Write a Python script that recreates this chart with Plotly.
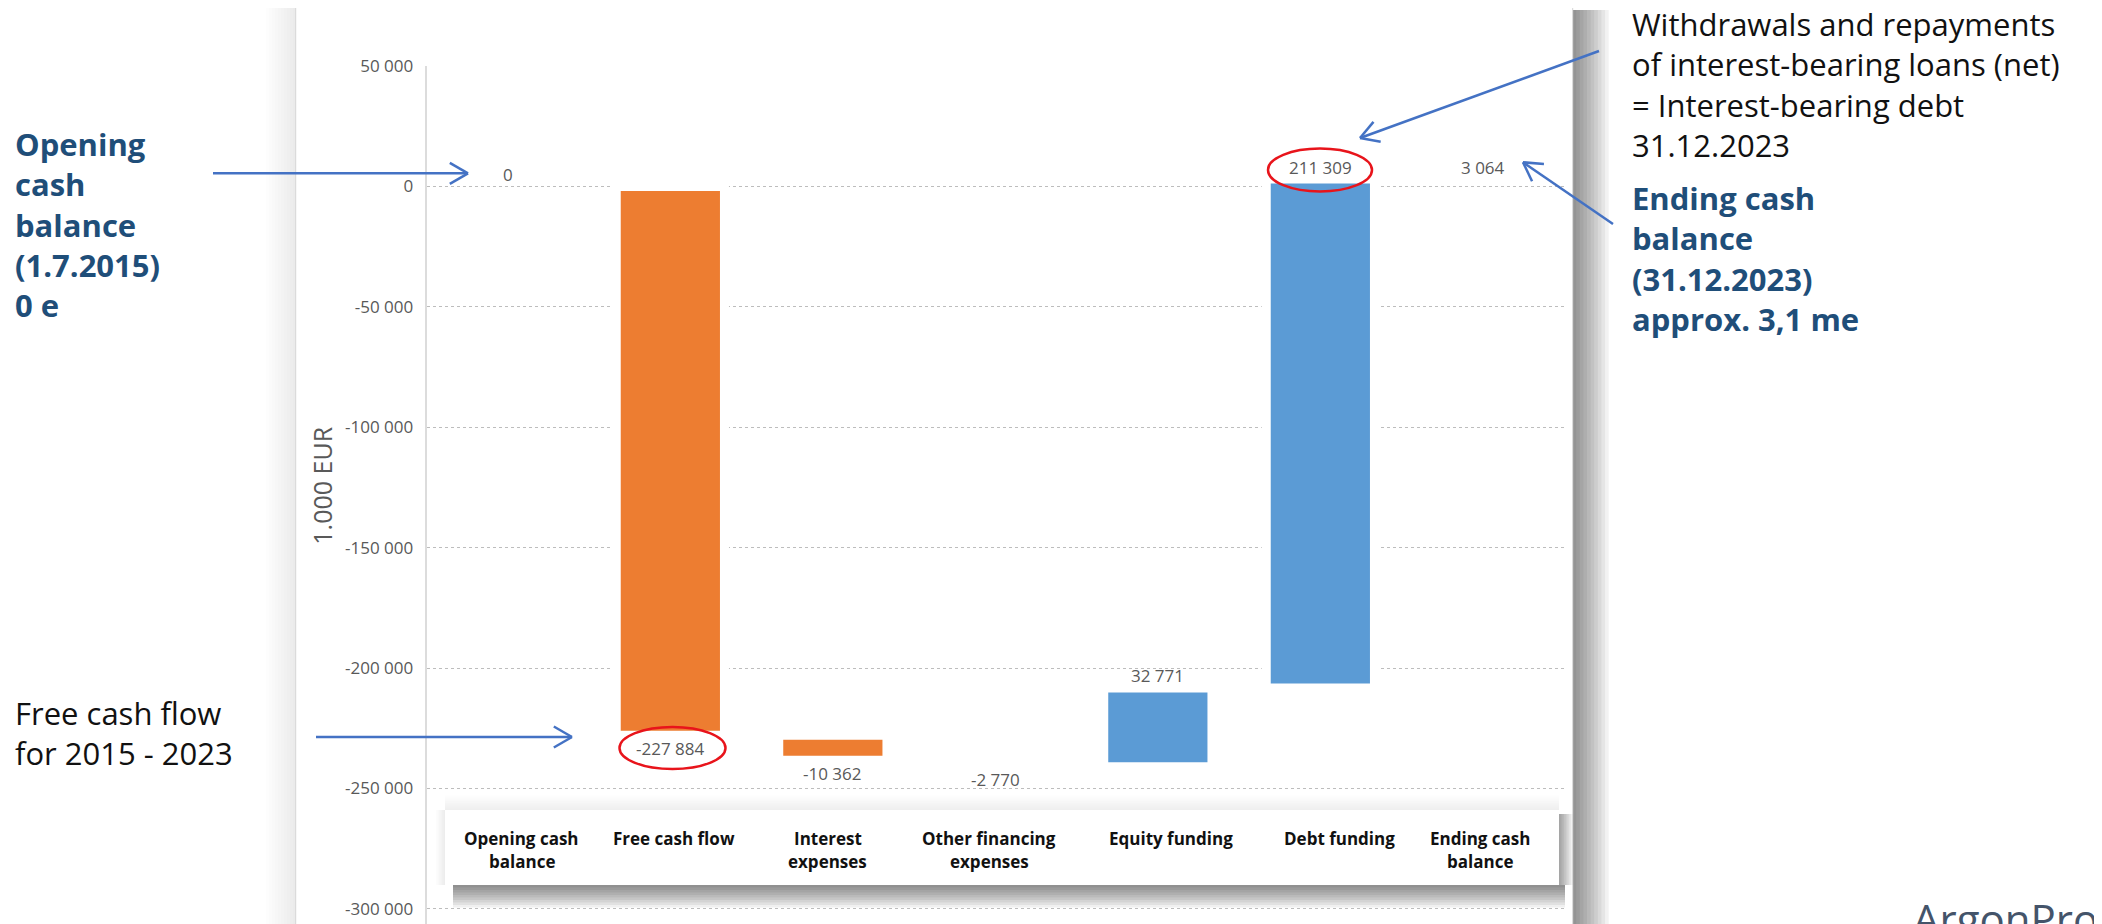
import math
import plotly.graph_objects as go

# ---- data -------------------------------------------------------------
CATEGORIES = ["Opening cash balance", "Free cash flow", "Interest expenses",
              "Other financing expenses", "Equity funding", "Debt funding",
              "Ending cash balance"]
CATEGORY_TEXT = ["Opening cash\nbalance", "Free cash flow", "Interest\nexpenses",
                 "Other financing\nexpenses", "Equity funding", "Debt funding",
                 "Ending cash\nbalance"]
MEASURES = ["total", "relative", "relative", "relative", "relative", "relative", "total"]
VALUES = [0, -227884, -10362, -2770, 32771, 211309, None]   # None -> running total
Y_TICKS = [50000, 0, -50000, -100000, -150000, -200000, -250000, -300000]
Y_TITLE = "1.000 EUR"

NOTE_OPENING = ["Opening", "cash", "balance", "(1.7.2015)", "0 e"]
NOTE_FCF = ["Free cash flow", "for 2015 - 2023"]
NOTE_DEBT = ["Withdrawals and repayments", "of interest-bearing loans (net)",
             "= Interest-bearing debt", "31.12.2023"]
NOTE_ENDING = ["Ending cash", "balance", "(31.12.2023)", "approx. 3,1 me"]
BRAND = "ArgonPro"

# ---- styling ----------------------------------------------------------
W, H = 2102, 924          # browser window
OFF = 8                   # default body margin of the page
FW, FH = W - OFF, H - OFF # figure size
FONT = "Open Sans"
ORANGE = "#ED7D31"
BLUE = "#5B9BD5"
NOTE_BLUE = "#1F4E79"
ARROW_BLUE = "#4472C4"
GREY_TXT = "#595959"
LABEL_XSHIFT = [14, 4, -5, -6, 13, 19, -3]

def px(x):
    return (x - OFF) / FW

def py(y):
    return 1 - (y - OFF) / FH

def fmt(v):
    return "{:,}".format(int(v)).replace(",", " ")

# waterfall geometry from the values
bases, heights, ends = [], [], []
run = 0
for m, v in zip(MEASURES, VALUES):
    if m == "total":
        h = run if v is None else v
        bases.append(0)
        heights.append(h)
        run = h
    else:
        bases.append(run)
        heights.append(v)
        run += v
    ends.append(run)

colors, lcolors = [], []
for m, h in zip(MEASURES, heights):
    if m == "total":
        colors.append("rgba(0,0,0,0)")
        lcolors.append("rgba(0,0,0,0)")
    else:
        colors.append(ORANGE if h < 0 else BLUE)
        lcolors.append("white")

fig = go.Figure()
fig.add_trace(go.Bar(
    x=CATEGORIES, y=heights, base=bases,
    marker=dict(color=colors, line=dict(color=lcolors, width=9)),
    width=0.666, hoverinfo="skip", showlegend=False,
))

shapes = []

def rect(x0, y0, x1, y1, fill, line=None, layer="below"):
    shapes.append(dict(type="rect", xref="paper", yref="paper",
                       x0=px(x0), x1=px(x1), y0=py(y1), y1=py(y0),
                       fillcolor=fill, line=line or dict(width=0), layer=layer))

def seg(x0, y0, x1, y1, color, width):
    shapes.append(dict(type="line", xref="paper", yref="paper",
                       x0=px(x0), y0=py(y0), x1=px(x1), y1=py(y1),
                       line=dict(color=color, width=width), layer="above"))

def arrow(x0, y0, x1, y1, color=ARROW_BLUE, width=2.5, head=21):
    seg(x0, y0, x1, y1, color, width)
    ang = math.atan2(y1 - y0, x1 - x0)
    for s in (1, -1):
        a = ang + math.pi + s * math.radians(30)
        seg(x1, y1, x1 + head * math.cos(a), y1 + head * math.sin(a), color, width)

def ellipse(cx, cy, rx, ry):
    shapes.append(dict(type="circle", xref="paper", yref="paper",
                       x0=px(cx - rx), x1=px(cx + rx), y0=py(cy + ry), y1=py(cy - ry),
                       line=dict(color="#E8141B", width=2.5), layer="above"))

# card shadows + card
CL, CT, CR = 295.7, 7, 1572.7
for i in range(10):
    rect(CR, 10, CR + 3.6 * (i + 1), H + 5, "rgba(0,0,0,0.05)")
for i in range(10):
    rect(CL - 3 * (i + 1), CT, CL, H + 5, "rgba(0,0,0,0.007)")
for i in range(5):
    rect(CL, CT - (i + 1), CR, CT, "rgba(0,0,0,0.02)")
rect(CL, CT, CR, H + 5, "white", line=dict(color="#d4d4d4", width=1))

# category label box with shadow
BL, BT, BR, BB = 445, 810, 1559, 885
for i in range(9):
    rect(BL + 8, BB, BR + 6, BB + 2.5 * (i + 1), "rgba(0,0,0,0.06)")
for i in range(8):
    rect(BR, BT + 4, BR + 1.7 * (i + 1), BB, "rgba(0,0,0,0.05)")
for i in range(8):
    rect(BL, BT - 1.8 * (i + 1), BR, BT, "rgba(0,0,0,0.008)")
for i in range(6):
    rect(BL - 1.5 * (i + 1), BT, BL, BB, "rgba(0,0,0,0.012)")
rect(BL, BT, BR, BB, "white")

# arrows and highlight ellipses
arrow(213, 173.3, 468, 173.3)
arrow(316, 737, 572, 737)
arrow(1599, 51, 1360, 138)
arrow(1613, 224, 1523, 162.3)
ellipse(672.5, 748, 53, 21)
ellipse(1320, 170, 52, 21.5)

annotations = []

def text_block(lines, x, y_first, spacing, size, color, bold=False):
    body = "<br>".join(lines)
    if bold:
        body = "<b>" + body + "</b>"
    annotations.append(dict(
        text=body, align="left",
        x=px(x), y=py(y_first + (len(lines) - 1) * spacing / 2),
        xref="paper", yref="paper", xanchor="left", yanchor="middle",
        showarrow=False, font=dict(family=FONT, size=size, color=color)))

text_block(NOTE_OPENING, 13, 147, 38.5, 31, NOTE_BLUE, bold=True)
text_block(NOTE_FCF, 13, 714, 37.5, 31, "#111111")
text_block(NOTE_DEBT, 1630, 27, 38.5, 31, "#111111")
text_block(NOTE_ENDING, 1630, 201, 38.5, 31, NOTE_BLUE, bold=True)

annotations.append(dict(text=BRAND, x=px(1911), y=py(888), xref="paper", yref="paper",
                        xanchor="left", yanchor="top", showarrow=False,
                        font=dict(family=FONT, size=42, color="#44546A")))

annotations.append(dict(text=Y_TITLE, x=px(321.7), y=py(486), xref="paper", yref="paper",
                        xanchor="center", yanchor="middle", textangle=-90, showarrow=False,
                        font=dict(family=FONT, size=25, color=GREY_TXT)))

# value labels at bar ends: change for steps, level for totals
for cat, m, h, e in zip(CATEGORIES, MEASURES, heights, ends):
    up = m == "total" or h >= 0
    annotations.append(dict(text=fmt(h), x=cat, y=e, xref="x", yref="y",
                            yshift=12 if up else -13, showarrow=False,
                            font=dict(family=FONT, size=17, color=GREY_TXT)))

# category labels inside the white box
for cat, txt, dx in zip(CATEGORIES, CATEGORY_TEXT, LABEL_XSHIFT):
    for i, line in enumerate(txt.split("\n")):
        annotations.append(dict(text="<b>{}</b>".format(line), x=cat, xref="x",
                                y=py(838 + i * 23.7), yref="paper", xshift=dx,
                                xanchor="center", yanchor="middle", showarrow=False,
                                font=dict(family=FONT, size=17, color="#111111")))

# y axis geometry: 0 at 186.5 px, 120.4 px per 50 000
PPU = 120.4 / 50000
Y_TOP_PX = 186.5 - 50000 * PPU
y_bottom = -(H - 186.5) / PPU

fig.update_layout(
    template="none",
    width=FW, height=FH,
    margin=dict(l=0, r=0, t=0, b=0),
    paper_bgcolor="white", plot_bgcolor="rgba(0,0,0,0)",
    shapes=shapes, annotations=annotations,
    xaxis=dict(domain=[px(426.6), px(1564.1)], range=[-0.5, 6.5],
               showticklabels=False, showgrid=False, zeroline=False,
               showline=False, ticks="", automargin=False),
    yaxis=dict(domain=[0, py(Y_TOP_PX)], range=[y_bottom, 50000],
               tickvals=Y_TICKS, ticktext=[fmt(v) for v in Y_TICKS],
               tickfont=dict(family=FONT, size=17, color=GREY_TXT),
               ticks="", ticklabelstandoff=8,
               showgrid=True, gridcolor="#bdbdbd", griddash="dot", gridwidth=1,
               zeroline=False, showline=True, linecolor="#dcdcdc", linewidth=2,
               automargin=False),
)

fig.write_html("out.html")
